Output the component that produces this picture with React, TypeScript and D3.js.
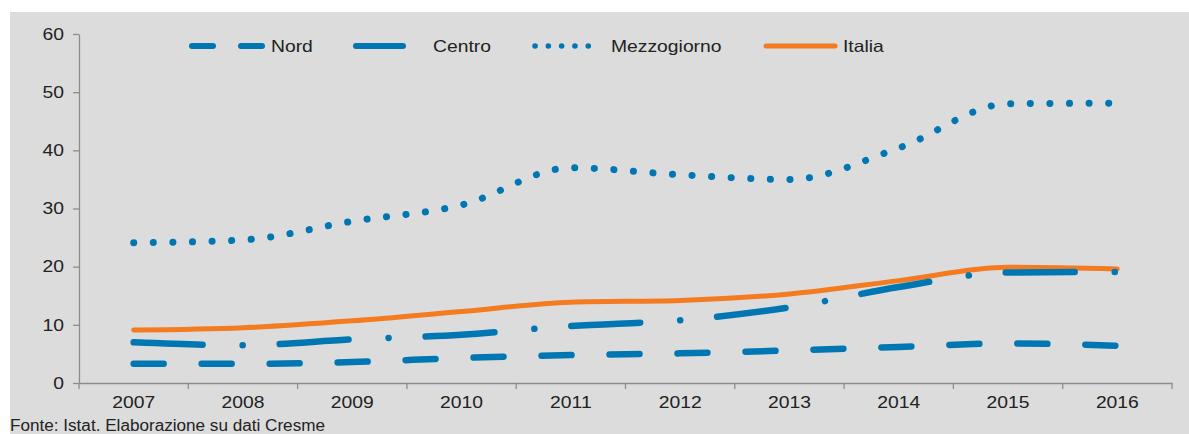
import React, { useRef, useEffect } from "react";
import { select, scaleLinear, scaleBand, axisLeft, axisBottom, line, curveMonotoneX } from "d3";

// data
const years = ["2007", "2008", "2009", "2010", "2011", "2012", "2013", "2014", "2015", "2016"];
const nord = [3.3, 3.3, 3.6, 4.3, 4.8, 5.1, 5.6, 6.2, 6.8, 6.4];
const centro = [7.0, 6.5, 7.5, 8.3, 9.8, 10.8, 13.0, 16.5, 19.0, 19.1];
const mezzogiorno = [24.1, 24.6, 27.8, 30.6, 37.0, 35.8, 35.0, 40.4, 48.0, 48.1];
const italia = [9.1, 9.5, 10.7, 12.3, 13.9, 14.2, 15.3, 17.6, 19.9, 19.6];
const yTicks = [0, 10, 20, 30, 40, 50, 60];

const BLUE = "#0077b3";
const ORANGE = "#f47b20";
const FONT = "'Liberation Sans', Arial, sans-serif";

const W = 1189;
const H = 434;
const margin = { left: 79, right: 17, top: 34, bottom: 51 };

// the reference text is a bit wider than Liberation Sans, stretch it
const stretch = (sel, k) => {
  sel.each(function () {
    const len = this.getComputedTextLength();
    select(this).attr("textLength", len * k).attr("lengthAdjust", "spacingAndGlyphs");
  });
};

const App = () => {
  const svgRef = useRef(null);

  useEffect(() => {
    const svg = select(svgRef.current);
    svg.selectAll("*").remove();

    const x = scaleBand().domain(years).range([margin.left, W - margin.right]);
    const y = scaleLinear().domain([0, 60]).range([H - margin.bottom, margin.top]);

    // background
    svg.append("rect").attr("x", 10).attr("y", 12).attr("width", W - 10).attr("height", H - 12).attr("fill", "#dcdcdc");

    // y axis
    const gy = svg.append("g").attr("transform", `translate(${margin.left},0)`)
      .call(axisLeft(y).tickValues(yTicks).tickSize(6).tickPadding(9).tickSizeOuter(0));
    gy.select(".domain").attr("stroke", "#8c8c8c").attr("stroke-width", 1.3);
    gy.selectAll(".tick line").attr("stroke", "#8c8c8c").attr("stroke-width", 1.3);
    gy.selectAll("text").attr("font-family", FONT).attr("font-size", 16.5).attr("fill", "#222")
      .call(stretch, 1.17);

    // x axis, ticks between categories
    const gx = svg.append("g").attr("transform", `translate(0,${H - margin.bottom})`)
      .call(axisBottom(x).tickSize(0).tickPadding(13));
    gx.select(".domain").attr("stroke", "#8c8c8c").attr("stroke-width", 1.3);
    gx.selectAll("text").attr("font-family", FONT).attr("font-size", 16.5).attr("fill", "#222")
      .call(stretch, 1.17);
    svg.append("g").selectAll("line")
      .data(years.map((d, i) => i).concat([years.length]))
      .join("line")
      .attr("x1", (i) => margin.left + i * x.step())
      .attr("x2", (i) => margin.left + i * x.step())
      .attr("y1", H - margin.bottom)
      .attr("y2", H - margin.bottom + 6)
      .attr("stroke", "#8c8c8c")
      .attr("stroke-width", 1.3);

    const cx = (i) => x(years[i]) + x.bandwidth() / 2;
    const myLine = line().x((d, i) => cx(i)).y((d) => y(d)).curve(curveMonotoneX);

    const series = [
      { data: italia, color: ORANGE, width: 5, dash: null },
      { data: nord, color: BLUE, width: 6.5, dash: "30,38" },
      { data: centro, color: BLUE, width: 6.5, dash: "69,40,0.1,37" },
      { data: mezzogiorno, color: BLUE, width: 7, dash: "0.1,19.5" },
    ];
    svg.append("g").selectAll("path")
      .data(series)
      .join("path")
      .attr("d", (s) => myLine(s.data))
      .attr("fill", "none")
      .attr("stroke", (s) => s.color)
      .attr("stroke-width", (s) => s.width)
      .attr("stroke-linecap", "round")
      .attr("stroke-linejoin", "round")
      .attr("stroke-dasharray", (s) => s.dash);

    // legend
    const lg = svg.append("g");
    const ly = 46;
    const legendLines = [
      { x1: 192, x2: 262, color: BLUE, width: 6, dash: "21,28" },
      { x1: 356, x2: 403, color: BLUE, width: 6, dash: null },
      { x1: 535, x2: 601, color: BLUE, width: 5.5, dash: "0.1,13.2" },
      { x1: 766, x2: 835, color: ORANGE, width: 5, dash: null },
    ];
    lg.selectAll("line")
      .data(legendLines)
      .join("line")
      .attr("x1", (d) => d.x1)
      .attr("x2", (d) => d.x2)
      .attr("y1", ly)
      .attr("y2", ly)
      .attr("stroke", (d) => d.color)
      .attr("stroke-width", (d) => d.width)
      .attr("stroke-linecap", "round")
      .attr("stroke-dasharray", (d) => d.dash);
    const legendText = [
      { label: "Nord", x: 271 },
      { label: "Centro", x: 433 },
      { label: "Mezzogiorno", x: 611 },
      { label: "Italia", x: 843 },
    ];
    lg.selectAll("text")
      .data(legendText)
      .join("text")
      .attr("x", (d) => d.x)
      .attr("y", ly + 6)
      .attr("font-family", FONT)
      .attr("font-size", 16.5)
      .attr("fill", "#222")
      .text((d) => d.label)
      .call(stretch, 1.17);

    // source note
    svg.append("text")
      .attr("x", 10)
      .attr("y", 431)
      .attr("font-family", "'Liberation Sans Narrow', 'Liberation Sans', sans-serif")
      .attr("font-size", 16)
      .attr("fill", "#222")
      .text("Fonte: Istat. Elaborazione su dati Cresme")
      .call(stretch, 1.07);
  }, []);

  return (
    <svg ref={svgRef} width={W} height={H} style={{ position: "absolute", left: 0, top: 0, background: "#fff" }} />
  );
};
export default App;
